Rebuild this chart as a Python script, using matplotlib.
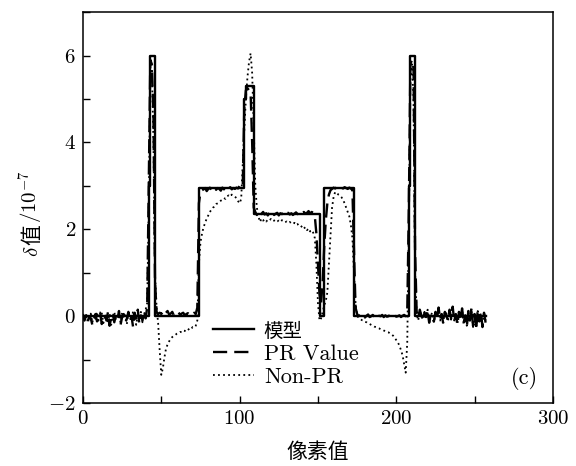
import numpy as np
import matplotlib
matplotlib.use("Agg")
import matplotlib.pyplot as plt
from matplotlib.ticker import MultipleLocator
from matplotlib.transforms import IdentityTransform

plt.rcParams['font.family'] = ['cmr10', 'Noto Sans CJK SC']
plt.rcParams['mathtext.fontset'] = 'cm'
plt.rcParams['axes.formatter.use_mathtext'] = True

# model: step levels (steps-post)
model_x = [0, 42, 43, 46, 74, 103, 104, 109, 151, 154, 173, 208, 209, 212, 257]
model_y = [0, 3.0, 6.0, 0, 2.95, 5.0, 5.3, 2.35, 0, 2.95, 0, 3.0, 6.0, 0, 0]

# PR Value, one value per pixel (0..257)
pr_value = [
    0.05, -0.10, 0.02, -0.15, 0.00, -0.05, -0.20, -0.08, 0.05, -0.12,
    -0.02, 0.08, -0.18, -0.05, 0.03, -0.10, 0.10, -0.22, -0.04, 0.06,
    -0.14, 0.02, -0.08, 0.12, -0.20, -0.02, 0.05, -0.15, -0.06, 0.10,
    -0.12, 0.00, -0.25, 0.08, -0.05, 0.15, -0.18, 0.02, -0.10, 0.12,
    -0.05, 0.20, 3.00, 5.90, 5.80, 4.60, 0.80, 0.10, 0.05, 0.08,
    0.05, 0.10, 0.03, 0.08, 0.12, 0.04, 0.06, 0.10, 0.02, 0.07,
    0.05, 0.09, 0.03, 0.06, 0.08, 0.02, 0.05, 0.07, 0.03, 0.06,
    0.04, 0.08, 0.05, 0.20, 2.60, 2.85, 2.90, 2.92, 2.95, 2.88,
    2.93, 2.96, 2.90, 2.94, 2.97, 2.91, 2.95, 2.93, 2.89, 2.96,
    2.92, 2.95, 2.90, 2.94, 2.97, 2.92, 2.95, 2.93, 2.96, 2.94,
    3.00, 3.05, 3.00, 4.80, 5.20, 5.25, 5.20, 5.15, 4.00, 2.50,
    2.40, 2.33, 2.38, 2.30, 2.36, 2.40, 2.34, 2.37, 2.32, 2.38,
    2.35, 2.40, 2.33, 2.36, 2.38, 2.32, 2.37, 2.35, 2.39, 2.33,
    2.36, 2.38, 2.34, 2.37, 2.33, 2.36, 2.39, 2.35, 2.38, 2.34,
    2.37, 2.40, 2.36, 2.38, 2.42, 2.36, 2.40, 2.38, 2.30, 1.90,
    1.20, 0.50, 0.30, 0.80, 1.60, 2.20, 2.60, 2.80, 2.90, 2.93,
    2.96, 2.94, 2.97, 2.95, 2.92, 2.96, 2.94, 2.97, 2.95, 2.93,
    2.96, 2.94, 2.90, 1.50, 0.20, 0.05, 0.00, 0.03, -0.02, 0.02,
    -0.03, 0.01, 0.04, -0.02, 0.00, 0.03, -0.01, 0.02, -0.03, 0.01,
    0.00, 0.03, -0.02, 0.02, -0.01, 0.00, 0.03, -0.02, 0.01, 0.02,
    -0.01, 0.00, 0.02, -0.02, 0.01, 0.03, 0.00, 0.10, 2.50, 5.80,
    5.90, 5.70, 1.50, 0.10, -0.05, 0.15, 0.02, -0.10, 0.08, -0.02,
    0.12, -0.15, 0.05, 0.00, -0.12, 0.10, -0.05, 0.20, -0.08, 0.05,
    -0.18, 0.10, 0.02, -0.10, 0.15, -0.05, 0.22, -0.12, 0.05, -0.20,
    0.10, -0.08, 0.18, -0.15, 0.02, -0.25, 0.12, -0.10, 0.20, -0.22,
    0.05, -0.30, 0.15, -0.12, 0.10, -0.25, 0.08, -0.15,
]

# Non-PR, one value per pixel (0..257)
non_pr = [
    0.00, -0.08, 0.05, -0.12, -0.02, 0.06, -0.15, 0.02, -0.06, 0.10,
    -0.10, 0.00, 0.08, -0.16, -0.03, 0.04, -0.12, 0.06, -0.20, 0.00,
    0.10, -0.08, -0.02, 0.05, -0.15, 0.08, -0.05, 0.02, -0.18, 0.06,
    0.00, -0.10, 0.12, -0.06, -0.20, 0.05, -0.02, 0.10, -0.14, 0.04,
    0.15, 0.30, 2.50, 5.50, 5.70, 4.00, 1.00, 0.20, -0.16, -0.80,
    -1.35, -1.20, -0.95, -0.75, -0.65, -0.58, -0.52, -0.48, -0.45, -0.43,
    -0.40, -0.38, -0.36, -0.37, -0.33, -0.34, -0.30, -0.32, -0.28, -0.30,
    -0.25, -0.26, -0.22, -0.10, 1.20, 1.70, 1.90, 2.05, 2.15, 2.25,
    2.32, 2.40, 2.45, 2.50, 2.52, 2.58, 2.60, 2.63, 2.66, 2.68,
    2.72, 2.70, 2.76, 2.78, 2.75, 2.80, 2.77, 2.75, 2.72, 2.65,
    2.60, 2.70, 3.50, 4.30, 5.00, 5.50, 5.85, 6.05, 5.60, 4.40,
    3.00, 2.50, 2.30, 2.17, 2.25, 2.20, 2.23, 2.18, 2.22, 2.20,
    2.24, 2.19, 2.20, 2.22, 2.18, 2.20, 2.17, 2.21, 2.19, 2.16,
    2.18, 2.15, 2.17, 2.14, 2.12, 2.15, 2.10, 2.12, 2.08, 2.05,
    2.08, 2.02, 2.05, 1.98, 2.02, 1.95, 1.98, 1.92, 1.80, 1.20,
    0.30, -0.10, -0.05, 0.10, 0.25, 0.35, 0.55, 1.20, 1.85, 2.50,
    2.75, 2.86, 2.84, 2.80, 2.78, 2.74, 2.68, 2.60, 2.50, 2.40,
    2.30, 2.10, 1.80, 1.00, 0.30, 0.00, -0.03, -0.06, -0.09, -0.10,
    -0.13, -0.14, -0.17, -0.18, -0.20, -0.22, -0.24, -0.25, -0.27, -0.28,
    -0.30, -0.31, -0.33, -0.34, -0.36, -0.37, -0.40, -0.42, -0.45, -0.50,
    -0.55, -0.60, -0.68, -0.78, -0.90, -1.10, -1.30, -0.60, 2.00, 5.50,
    5.80, 5.00, 1.00, 0.05, -0.10, 0.12, 0.00, -0.08, 0.10, -0.05,
    0.15, -0.12, 0.02, 0.08, -0.15, 0.05, -0.02, 0.18, -0.10, 0.00,
    -0.15, 0.12, 0.05, -0.12, 0.10, -0.08, 0.20, -0.10, 0.00, -0.18,
    0.12, -0.05, 0.15, -0.20, 0.05, -0.22, 0.10, -0.12, 0.18, -0.25,
    0.00, -0.28, 0.12, -0.15, 0.08, -0.20, 0.10, -0.10,
]

x_pr = np.arange(len(pr_value))
x_non = np.arange(len(non_pr))

fig = plt.figure(figsize=(5.76, 4.66), dpi=100)
ax = fig.add_axes([0.144, 0.135, 0.816, 0.839])

ax.plot(model_x, model_y, drawstyle='steps-post', color='black', lw=1.7, label='模型')
ax.plot(x_pr, pr_value, color='black', lw=1.7, dashes=(6, 3), label='PR Value')
ax.plot(x_non, non_pr, color='black', lw=1.3, dashes=(1.0, 1.8), label='Non-PR')

ax.set_xlim(0, 300)
ax.set_ylim(-2, 7)
ax.xaxis.set_major_locator(MultipleLocator(100))
ax.xaxis.set_minor_locator(MultipleLocator(50))
ax.yaxis.set_major_locator(MultipleLocator(2))
ax.yaxis.set_minor_locator(MultipleLocator(1))
ax.tick_params(which='both', direction='in', length=5, width=1, labelsize=15, pad=5)
for s in ax.spines.values():
    s.set_linewidth(1.1)

ax.set_xlabel('像素值', fontsize=15, labelpad=10)

# y label built from pieces: mathtext (cm) does not carry CJK glyphs
renderer = fig.canvas.get_renderer()
pieces = [(r'$\delta$', {}), ('值', {'family': 'Noto Sans CJK SC'}), (r'$/10^{-7}$', {})]
texts = []
for s, kw in pieces:
    t = fig.text(0, 0, s, fontsize=15, rotation=90, rotation_mode='anchor',
                 ha='left', va='baseline', transform=IdentityTransform(), **kw)
    texts.append(t)
lengths = [t.get_window_extent(renderer).height for t in texts]
gap = 1.0
total = sum(lengths) + gap * (len(lengths) - 1)
ypos = 466 - 214 - total / 2
for t, h in zip(texts, lengths):
    t.set_position((38, ypos))
    ypos += h + gap

ax.text(0.94, 0.064, '(c)', transform=ax.transAxes, fontsize=16, ha='center', va='center')

leg = ax.legend(loc='upper left', bbox_to_anchor=(0.243, 0.248), frameon=False,
                fontsize=16, handlelength=1.85, handletextpad=0.45, labelspacing=0.15,
                borderpad=0.2)
leg.get_texts()[0].set_fontsize(14)

fig.savefig('out.png', dpi=100)
